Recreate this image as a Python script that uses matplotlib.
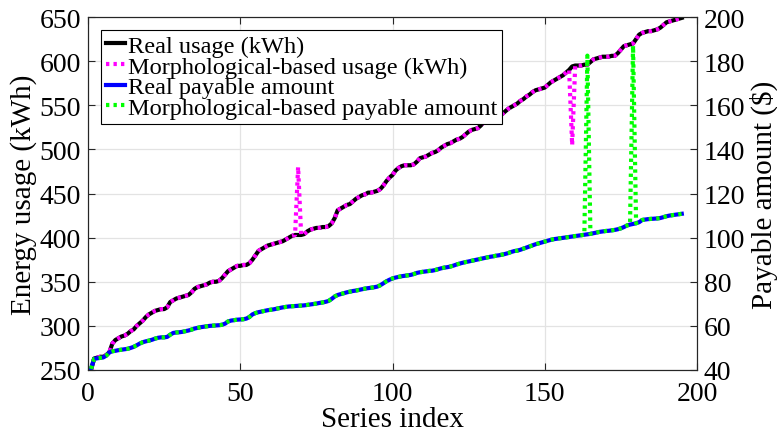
import numpy as np
import matplotlib
matplotlib.use("Agg")
import matplotlib.pyplot as plt

# ---- data ----
series_index = list(range(1, 196))

real_usage = [
    250, 263, 264, 265, 265, 267, 270, 280, 284, 286,
    288, 289, 291, 294, 296, 300, 303, 306, 310, 313,
    315, 317, 318, 319, 319, 321, 327, 329, 331, 332,
    333, 334, 335, 338, 342, 344, 345, 346, 347, 349,
    350, 350, 351, 354, 358, 362, 364, 366, 368, 368,
    369, 369, 371, 375, 380, 385, 387, 389, 391, 392,
    393, 394, 395, 396, 398, 400, 402, 403, 403, 403,
    404, 407, 409, 410, 411, 411, 412, 412, 413, 416,
    422, 431, 433, 435, 437, 438, 441, 444, 446, 448,
    449, 451, 451, 452, 453, 455, 459, 464, 468, 471,
    476, 479, 481, 482, 482, 482, 483, 486, 490, 491,
    492, 494, 496, 497, 499, 502, 504, 506, 507, 509,
    511, 512, 514, 517, 520, 522, 523, 524, 527, 531,
    534, 535, 536, 538, 539, 540, 543, 546, 548, 550,
    552, 555, 557, 560, 562, 565, 567, 568, 569, 570,
    573, 576, 578, 580, 582, 584, 587, 590, 594, 595,
    595, 595, 596, 596, 599, 602, 603, 604, 605, 605,
    605, 606, 606, 609, 613, 617, 618, 619, 620, 625,
    630, 632, 633, 634, 634, 635, 636, 638, 641, 644,
    645, 646, 647, 648, 649,
]

real_payable = [
    40.5, 45.0, 45.3, 45.5, 45.7, 46.5, 48.0, 48.5, 48.7, 49.0,
    49.2, 49.4, 49.6, 50.0, 50.5, 51.2, 52.0, 52.6, 53.0, 53.3,
    53.7, 54.2, 54.6, 54.8, 54.8, 55.0, 56.0, 56.8, 57.0, 57.1,
    57.3, 57.6, 57.9, 58.3, 58.8, 59.1, 59.4, 59.6, 59.8, 60.0,
    60.1, 60.2, 60.3, 60.5, 61.0, 62.0, 62.4, 62.6, 62.8, 62.9,
    63.0, 63.3, 64.0, 65.2, 65.8, 66.2, 66.5, 66.8, 67.1, 67.3,
    67.5, 67.8, 68.1, 68.4, 68.6, 68.8, 68.9, 69.0, 69.1, 69.2,
    69.3, 69.5, 69.7, 69.9, 70.1, 70.4, 70.6, 70.9, 71.3, 72.2,
    73.3, 74.0, 74.4, 74.8, 75.2, 75.5, 75.8, 76.0, 76.3, 76.6,
    76.9, 77.1, 77.3, 77.5, 77.8, 78.4, 79.3, 80.2, 80.9, 81.5,
    81.9, 82.2, 82.5, 82.7, 82.9, 83.1, 83.5, 84.0, 84.3, 84.5,
    84.7, 84.9, 85.0, 85.3, 85.7, 86.1, 86.4, 86.6, 86.9, 87.3,
    87.8, 88.2, 88.6, 88.9, 89.2, 89.5, 89.8, 90.1, 90.4, 90.7,
    91.0, 91.3, 91.5, 91.8, 92.0, 92.3, 92.6, 93.0, 93.5, 93.9,
    94.1, 94.5, 95.0, 95.5, 96.0, 96.5, 97.0, 97.4, 97.8, 98.2,
    98.6, 99.0, 99.3, 99.5, 99.7, 99.9, 100.1, 100.3, 100.5, 100.7,
    100.9, 101.1, 101.3, 101.5, 101.7, 102.0, 102.3, 102.6, 102.8, 103.0,
    103.1, 103.3, 103.5, 103.8, 104.2, 104.8, 105.5, 105.9, 106.2, 106.5,
    107.0, 108.0, 108.2, 108.4, 108.5, 108.6, 108.7, 108.9, 109.3, 109.7,
    110.0, 110.2, 110.4, 110.6, 110.8,
]

# morphological-based estimates differ from the real ones only at these indices
morph_usage_outliers = {69: 480, 159: 505}
morph_payable_outliers = {164: 182.5, 179: 187}

morph_usage = list(real_usage)
for idx, val in morph_usage_outliers.items():
    morph_usage[series_index.index(idx)] = val
morph_payable = list(real_payable)
for idx, val in morph_payable_outliers.items():
    morph_payable[series_index.index(idx)] = val

labels = ["Real usage (kWh)", "Morphological-based usage (kWh)",
          "Real payable amount", "Morphological-based payable amount"]
xticks = [0, 50, 100, 150, 200]
left_ticks = [250, 300, 350, 400, 450, 500, 550, 600, 650]
right_ticks = [40, 60, 80, 100, 120, 140, 160, 180, 200]

# ---- plotting ----
plt.rcParams["font.family"] = ["Liberation Serif", "DejaVu Serif"]
plt.rcParams["mathtext.fontset"] = "stix"

fig = plt.figure(figsize=(7.77, 4.35), dpi=100)
ax = fig.add_axes([88 / 777, 64 / 435, 609 / 777, 353 / 435])
ax2 = ax.twinx()

lw = 3.0
l1, = ax.plot(series_index, real_usage, color="black", lw=lw, solid_joinstyle="round")
l2, = ax.plot(series_index, morph_usage, color="#ff00ff", lw=lw,
              linestyle=(0, (0.8, 1.0)), dash_capstyle="butt")
l3, = ax2.plot(series_index, real_payable, color="#0000ff", lw=lw, solid_joinstyle="round")
l4, = ax2.plot(series_index, morph_payable, color="#00ff00", lw=lw,
               linestyle=(0, (0.8, 1.0)), dash_capstyle="butt")

ax.set_xlim(0, 200)
ax.set_ylim(250, 650)
ax2.set_ylim(40, 200)
ax.set_xticks(xticks)
ax.set_yticks(left_ticks)
ax2.set_yticks(right_ticks)

fs_tick = 20
fs_lab = 21
ax.tick_params(axis="x", direction="in", labelsize=fs_tick, length=5, width=0.8,
               colors="#262626", labelcolor="black", top=True, pad=8)
ax.tick_params(axis="y", direction="in", labelsize=fs_tick, length=5, width=0.8,
               colors="#262626", labelcolor="black", right=False, pad=5)
ax2.tick_params(axis="y", direction="in", labelsize=fs_tick, length=5, width=0.8,
                colors="#262626", labelcolor="black", pad=5)
ax.grid(True, color="#e3e3e3", lw=0.9)
ax.set_axisbelow(True)
for a in (ax, ax2):
    for s in a.spines.values():
        s.set_color("#262626")
        s.set_linewidth(0.8)

ax.set_xlabel("Series index", fontsize=fs_lab, labelpad=0)
ax.set_ylabel("Energy usage (kWh)", fontsize=fs_lab, labelpad=2)
ax2.set_ylabel(r"Payable amount (\$)", fontsize=fs_lab, labelpad=3)

leg = ax2.legend([l1, l2, l3, l4], labels, loc="upper left",
                 bbox_to_anchor=(13 / 609, 340 / 353), borderaxespad=0,
                 fontsize=17.6, frameon=True, fancybox=False, framealpha=1,
                 edgecolor="black", handlelength=0.8, handletextpad=0.1,
                 labelspacing=-0.06, borderpad=0.2)
leg.get_frame().set_linewidth(0.8)

fig.savefig("out.png", dpi=100)
